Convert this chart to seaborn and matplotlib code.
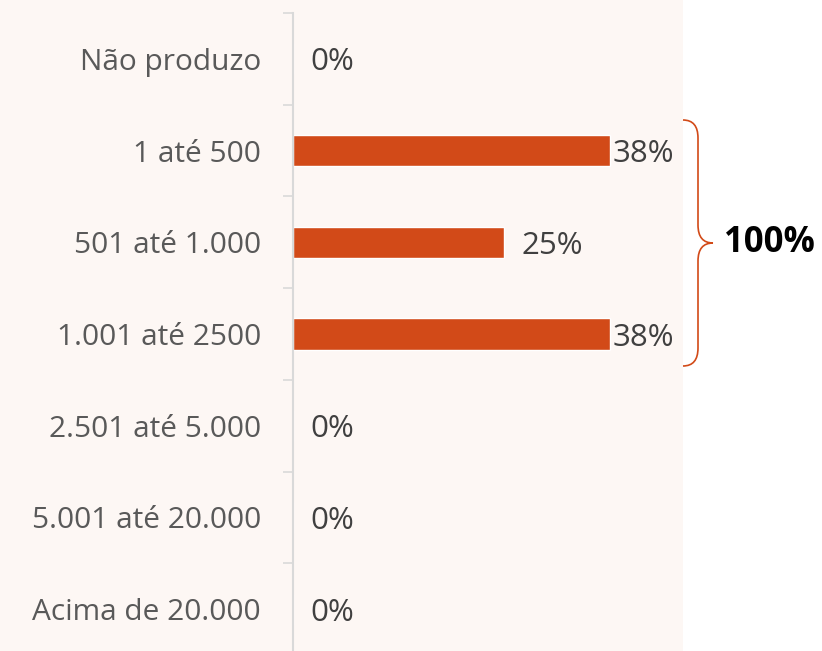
import matplotlib
matplotlib.use('Agg')
import matplotlib.pyplot as plt
from matplotlib.patches import Rectangle, PathPatch
from matplotlib.path import Path
from matplotlib.ticker import FixedLocator
import seaborn as sns
import pandas as pd

# Data
categories = ['Não produzo', '1 até 500', '501 até 1.000', '1.001 até 2500',
              '2.501 até 5.000', '5.001 até 20.000', 'Acima de 20.000']
shares = [0, 37.5, 25, 37.5, 0, 0, 0]
total_label = '100%'

bar_color = '#D24A18'
bg_color = '#FDF7F4'
text_color = '#595959'

sns.set_theme(style='white')
plt.rcParams['font.family'] = ['Open Sans', 'DejaVu Sans']

df = pd.DataFrame({'Faixa': categories, 'Percentual': shares})

fig = plt.figure(figsize=(8.22, 6.51), dpi=100, facecolor='white')
# pink panel behind the chart (stops before the bracket)
fig.patches.append(Rectangle((0, 0), 683 / 822, 1, transform=fig.transFigure,
                             facecolor=bg_color, edgecolor='none', zorder=-10))

ax = fig.add_axes([293 / 822, -4 / 651, 390 / 822, 642 / 651])
ax.set_facecolor('none')
ax.set_zorder(1)

sns.barplot(data=df, x='Percentual', y='Faixa', orient='h', color=bar_color,
            width=0.34, saturation=1, ax=ax)

ax.set_xlim(0, 46.2)
ax.set_ylim(6.5, -0.5)
ax.set_xlabel('')
ax.set_ylabel('')
ax.set_xticks([])

for s in ['top', 'right', 'bottom']:
    ax.spines[s].set_visible(False)
ax.spines['left'].set_color('#D9D9D9')
ax.spines['left'].set_linewidth(1.5)

# ticks on the category boundaries, labels centred on the bars
ax.yaxis.set_minor_locator(FixedLocator([i - 0.5 for i in range(len(categories) + 1)]))
ax.tick_params(axis='y', which='minor', left=True, length=7, width=1.2, color='#D9D9D9')
ax.tick_params(axis='y', which='major', left=True, length=0, pad=23,
               labelsize=21.5, labelcolor=text_color)

# value labels
for i, v in enumerate(shares):
    pad = 2.5 if v > 30 else 12.5
    ax.annotate(f'{v:.0f}%', xy=(v, i), xytext=(pad, 0), textcoords='offset points',
                ha='left', va='center_baseline', fontsize=22.5, color='#404040',
                annotation_clip=False)

# curly bracket grouping the non-zero bars
x0, x1, x2 = 683, 698, 713
ya, yb, ym = 120, 366, 243
verts = [(x0, ya), (x1, ya), (x1, ya + 18),
         (x1, ym - 18), (x1, ym), (x2, ym),
         (x1, ym), (x1, ym + 18),
         (x1, yb - 18), (x1, yb), (x0, yb)]
verts = [(x / 822, 1 - y / 651) for x, y in verts]
codes = [Path.MOVETO, Path.CURVE3, Path.CURVE3,
         Path.LINETO, Path.CURVE3, Path.CURVE3,
         Path.CURVE3, Path.CURVE3,
         Path.LINETO, Path.CURVE3, Path.CURVE3]
fig.patches.append(PathPatch(Path(verts, codes), transform=fig.transFigure,
                             facecolor='none', edgecolor=bar_color, lw=1.2))

fig.text(724 / 822, 1 - 243 / 651, total_label, ha='left', va='center',
         fontsize=25, fontweight='bold', color='black')

fig.savefig('out.png', dpi=100, facecolor=fig.get_facecolor())
plt.close(fig)
